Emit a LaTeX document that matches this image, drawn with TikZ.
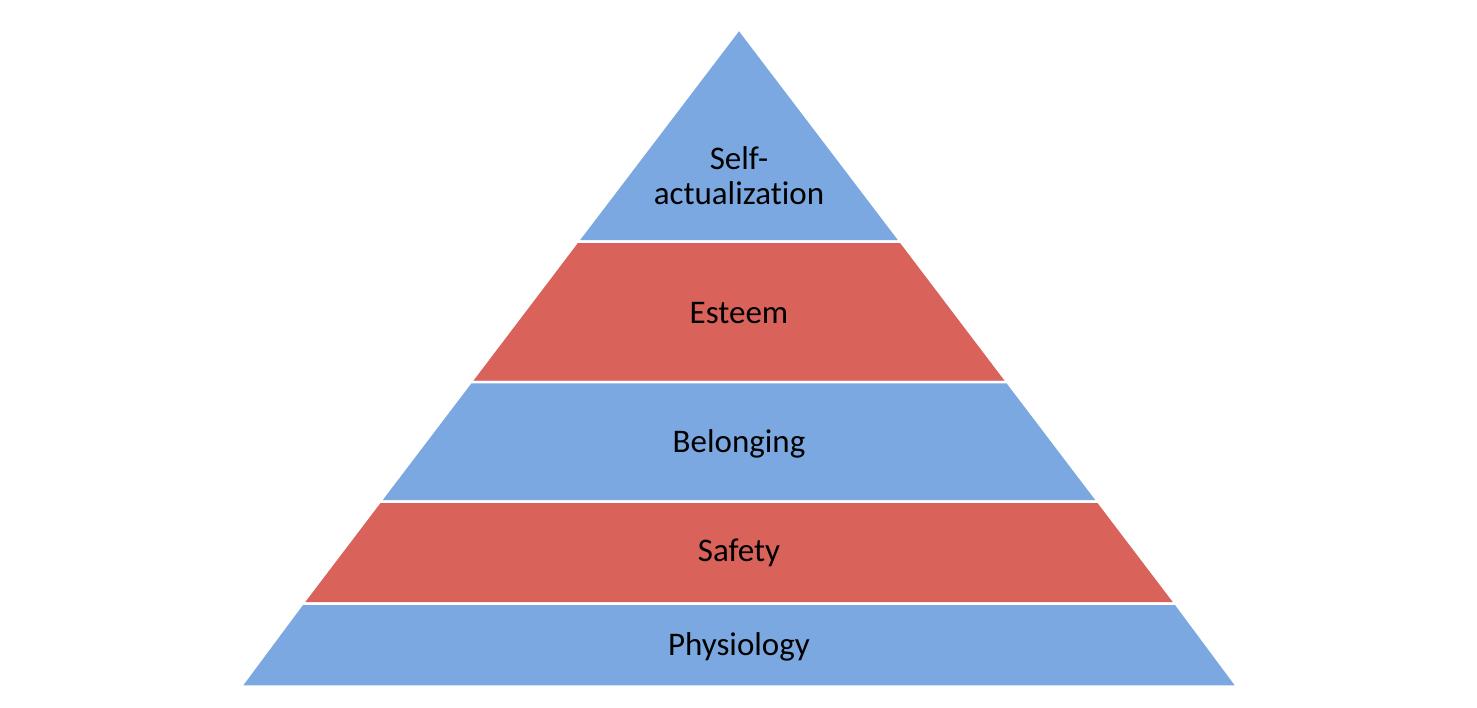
\documentclass[tikz,border=0pt]{standalone}
\usepackage{fontspec}
\setmainfont[Ligatures=NoCommon]{Carlito}
\definecolor{bandblue}{HTML}{7BA8E0}
\definecolor{bandred}{HTML}{D9625B}
\begin{document}
\begin{tikzpicture}[x=1pt,y=-1pt,
  band/.style={draw=white,line width=2.5pt,line join=miter},
  lbl/.style={font=\fontsize{33}{35}\selectfont,text=black,align=center,inner sep=0pt}]
\useasboundingbox (0,0) rectangle (1477,707);
\path[band,fill=bandblue] (739,29) -- (900.7,241.5) -- (577.3,241.5) -- cycle;
\path[band,fill=bandred] (577.3,241.5) -- (900.7,241.5) -- (1007.3,382) -- (470.7,382) -- cycle;
\path[band,fill=bandblue] (470.7,382) -- (1007.3,382) -- (1098.1,501.5) -- (379.9,501.5) -- cycle;
\path[band,fill=bandred] (379.9,501.5) -- (1098.1,501.5) -- (1175.6,603.5) -- (302.4,603.5) -- cycle;
\path[band,fill=bandblue] (302.4,603.5) -- (1175.6,603.5) -- (1237.3,686.5) -- (240.7,686.5) -- cycle;
\node[lbl] (self) at (739,176) {Self-\\actualization};
\node[lbl] (esteem) at (739,313) {Esteem};
\node[lbl] (belong) at (739,444) {Belonging};
\node[lbl] (safety) at (739,553) {Safety};
\node[lbl] (physio) at (739,647) {Physiology};
\end{tikzpicture}
\end{document}
